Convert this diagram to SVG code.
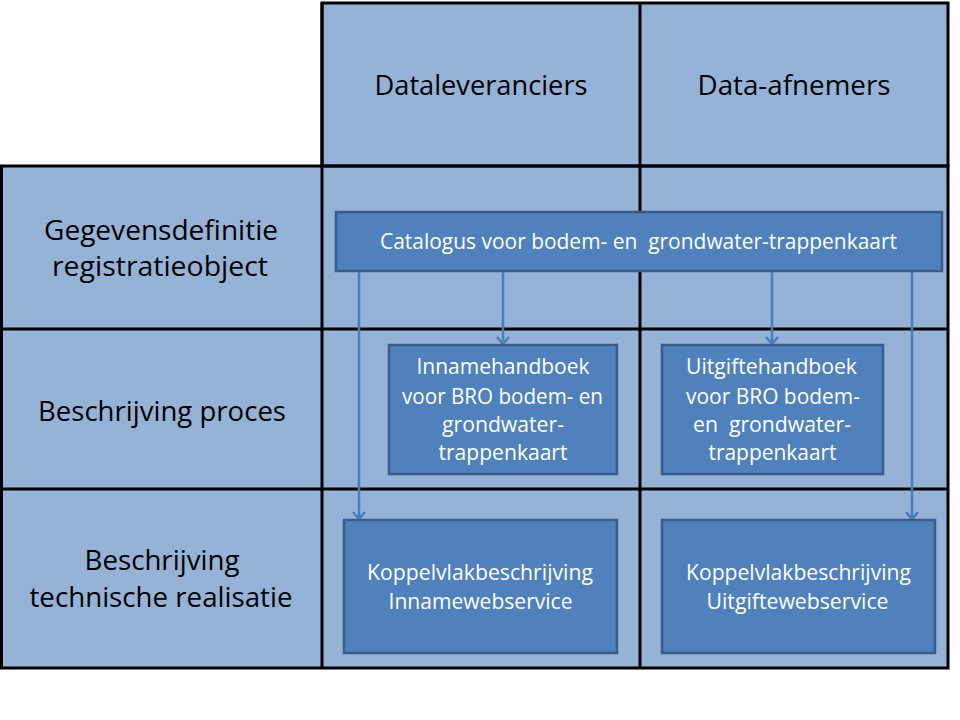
<svg xmlns="http://www.w3.org/2000/svg" width="960" height="720" viewBox="0 0 960 720">
<style>
.cell{fill:#95B3D7;stroke:none}
.grid{fill:none;stroke:#000;stroke-width:3}
.box{fill:#4F81BD;stroke:#385D8A;stroke-width:2.5}
.lbl{font-family:"Open Sans","Noto Sans","Liberation Sans",sans-serif;font-size:27px;fill:#000;text-anchor:middle}
.bt{font-family:"Open Sans","Noto Sans","Liberation Sans",sans-serif;font-size:21px;fill:#fff;text-anchor:middle;white-space:pre}
.conn{fill:none;stroke:#4A7EBB;stroke-width:2.5}
</style>
<defs>
<marker id="arr" markerUnits="userSpaceOnUse" markerWidth="16" markerHeight="16" refX="8" refY="8" orient="auto" viewBox="0 0 16 16">
<path d="M1,2 L8,8 L1,14" fill="none" stroke="#4A7EBB" stroke-width="2.5"/>
</marker>
</defs>
<rect x="0" y="0" width="960" height="720" fill="#fff"/>
<g id="grid">
<rect class="cell" x="322" y="3" width="626" height="665"/>
<rect class="cell" x="1.5" y="166" width="321" height="502"/>
<rect class="grid" x="322" y="3" width="626" height="163"/>
<rect class="grid" x="1.5" y="166" width="946.5" height="502"/>
<line class="grid" x1="1.5" y1="329" x2="948" y2="329"/>
<line class="grid" x1="1.5" y1="489" x2="948" y2="489"/>
<line class="grid" x1="322" y1="3" x2="322" y2="668"/>
<line class="grid" x1="640" y1="3" x2="640" y2="668"/>
</g>
<g id="col-dataleveranciers"><text class="lbl" x="481" y="95" textLength="213" lengthAdjust="spacingAndGlyphs">Dataleveranciers</text></g>
<g id="col-data-afnemers"><text class="lbl" x="794" y="95" textLength="193" lengthAdjust="spacingAndGlyphs">Data-afnemers</text></g>
<g id="row-gegevensdefinitie">
<text class="lbl" x="161" y="240" textLength="234" lengthAdjust="spacingAndGlyphs">Gegevensdefinitie</text>
<text class="lbl" x="160" y="276" textLength="216" lengthAdjust="spacingAndGlyphs">registratieobject</text>
</g>
<g id="row-proces"><text class="lbl" x="162" y="421" textLength="248" lengthAdjust="spacingAndGlyphs">Beschrijving proces</text></g>
<g id="row-technisch">
<text class="lbl" x="162" y="570" textLength="155" lengthAdjust="spacingAndGlyphs">Beschrijving</text>
<text class="lbl" x="161" y="607" textLength="263" lengthAdjust="spacingAndGlyphs">technische realisatie</text>
</g>
<g id="connectors">
<line class="conn" x1="359" y1="271" x2="359" y2="519" marker-end="url(#arr)"/>
<line class="conn" x1="503" y1="271" x2="503" y2="344" marker-end="url(#arr)"/>
<line class="conn" x1="772" y1="271" x2="772" y2="344" marker-end="url(#arr)"/>
<line class="conn" x1="912" y1="271" x2="912" y2="519" marker-end="url(#arr)"/>
</g>
<g id="catalogus">
<rect class="box" x="336" y="212" width="606" height="59"/>
<text class="bt" x="638.5" y="249" textLength="517" lengthAdjust="spacingAndGlyphs">Catalogus voor bodem- en  grondwater-trappenkaart</text>
</g>
<g id="innamehandboek">
<rect class="box" x="389" y="345" width="228" height="129"/>
<text class="bt" x="503" y="374" textLength="173" lengthAdjust="spacingAndGlyphs">Innamehandboek</text>
<text class="bt" x="502.5" y="404" textLength="201" lengthAdjust="spacingAndGlyphs">voor BRO bodem- en</text>
<text class="bt" x="503" y="432" textLength="122" lengthAdjust="spacingAndGlyphs">grondwater-</text>
<text class="bt" x="503" y="460" textLength="129" lengthAdjust="spacingAndGlyphs">trappenkaart</text>
</g>
<g id="uitgiftehandboek">
<rect class="box" x="662" y="345" width="221" height="129"/>
<text class="bt" x="771.5" y="374" textLength="171" lengthAdjust="spacingAndGlyphs">Uitgiftehandboek</text>
<text class="bt" x="773" y="404" textLength="174" lengthAdjust="spacingAndGlyphs">voor BRO bodem-</text>
<text class="bt" x="772" y="432" textLength="158" lengthAdjust="spacingAndGlyphs">en  grondwater-</text>
<text class="bt" x="772.5" y="460" textLength="128" lengthAdjust="spacingAndGlyphs">trappenkaart</text>
</g>
<g id="koppelvlak-inname">
<rect class="box" x="344" y="520" width="273" height="133"/>
<text class="bt" x="480" y="580" textLength="226" lengthAdjust="spacingAndGlyphs">Koppelvlakbeschrijving</text>
<text class="bt" x="480.5" y="609" textLength="184" lengthAdjust="spacingAndGlyphs">Innamewebservice</text>
</g>
<g id="koppelvlak-uitgifte">
<rect class="box" x="662" y="520" width="273" height="133"/>
<text class="bt" x="798.5" y="580" textLength="225" lengthAdjust="spacingAndGlyphs">Koppelvlakbeschrijving</text>
<text class="bt" x="797.5" y="609" textLength="182" lengthAdjust="spacingAndGlyphs">Uitgiftewebservice</text>
</g>
</svg>
